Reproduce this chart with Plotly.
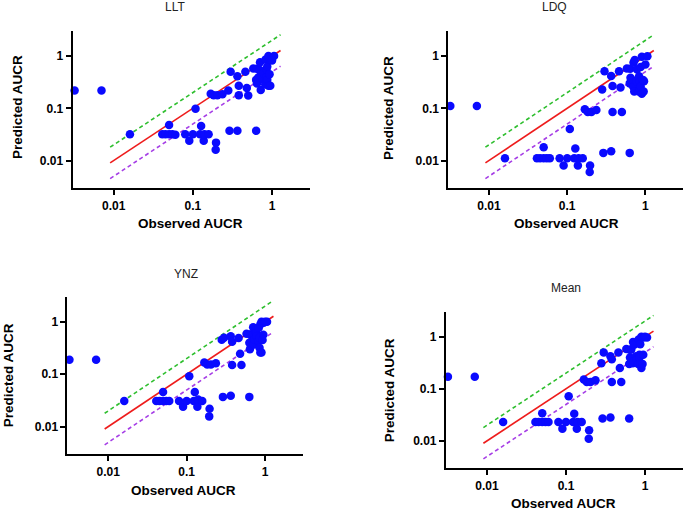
import plotly.graph_objects as go

# Observed AUCR (shared across panels)
observed = [0.0032, 0.007, 0.016, 0.041, 0.045, 0.050, 0.050, 0.055, 0.060, 0.080,
            0.090, 0.100, 0.108, 0.123, 0.127, 0.137, 0.140, 0.158, 0.168, 0.183,
            0.194, 0.196, 0.204, 0.236, 0.28, 0.29, 0.30, 0.365, 0.365, 0.38,
            0.38, 0.46, 0.48, 0.50, 0.58, 0.63, 0.64, 0.63, 0.645, 0.67,
            0.70, 0.705, 0.72, 0.73, 0.77, 0.78, 0.82, 0.83, 0.85, 0.85,
            0.87, 0.87, 0.90, 0.90, 0.95, 0.96, 1.06, 1.00, 0.93]

pred_llt = [0.22, 0.22, 0.032, 0.032, 0.032, 0.048, 0.032, 0.032, 0.031, 0.032,
            0.024, 0.032, 0.098, 0.032, 0.046, 0.024, 0.032, 0.032, 0.19, 0.178,
            0.016, 0.022, 0.178, 0.186, 0.22, 0.037, 0.50, 0.037, 0.41, 0.27,
            0.178, 0.50, 0.245, 0.176, 0.58, 0.037, 0.57, 0.35, 0.30, 0.39,
            0.54, 0.76, 0.225, 0.47, 0.36, 0.47, 0.29, 0.86, 0.40, 0.56,
            0.63, 0.35, 1.0, 0.27, 0.27, 0.84, 1.0, 0.82, 0.45]

pred_ldq = [0.111, 0.111, 0.011, 0.011, 0.011, 0.018, 0.011, 0.011, 0.011, 0.011,
            0.008, 0.011, 0.040, 0.011, 0.017, 0.008, 0.011, 0.011, 0.096, 0.085,
            0.006, 0.008, 0.085, 0.093, 0.23, 0.014, 0.51, 0.015, 0.415, 0.267,
            0.085, 0.51, 0.25, 0.085, 0.58, 0.014, 0.57, 0.30, 0.385, 0.35,
            0.26, 0.75, 0.21, 0.84, 0.33, 0.56, 0.21, 0.41, 0.23, 0.33,
            0.62, 0.26, 0.97, 0.19, 0.21, 0.33, 0.99, 0.69, 0.35]

pred_ynz = [0.189, 0.189, 0.031, 0.031, 0.031, 0.046, 0.031, 0.031, 0.031, 0.031,
            0.024, 0.031, 0.092, 0.031, 0.046, 0.024, 0.033, 0.031, 0.168, 0.154,
            0.0157, 0.022, 0.154, 0.163, 0.454, 0.037, 0.495, 0.039, 0.53, 0.416,
            0.15, 0.49, 0.246, 0.15, 0.59, 0.037, 0.30, 0.40, 0.58, 0.55,
            0.57, 0.79, 0.37, 0.46, 0.62, 0.53, 0.43, 0.77, 0.32, 0.50,
            0.89, 0.26, 1.0, 0.26, 0.57, 0.96, 1.0, 1.0, 0.45]

pred_mean = [0.171, 0.171, 0.023, 0.023, 0.023, 0.034, 0.023, 0.023, 0.023, 0.023,
             0.017, 0.023, 0.072, 0.023, 0.033, 0.017, 0.023, 0.023, 0.15, 0.135,
             0.011, 0.016, 0.135, 0.145, 0.31, 0.027, 0.50, 0.028, 0.42, 0.37,
             0.135, 0.50, 0.25, 0.135, 0.58, 0.027, 0.56, 0.30, 0.40, 0.57,
             0.31, 0.79, 0.34, 0.70, 0.42, 0.36, 0.30, 0.88, 0.45, 0.40,
             0.72, 0.30, 1.0, 0.25, 0.45, 0.97, 0.97, 1.0, 0.30]

panel_titles = ["LLT", "LDQ", "YNZ", "Mean"]
panel_preds = [pred_llt, pred_ldq, pred_ynz, pred_mean]

# reference lines: unity, 2-fold above, 2-fold below
line_x = [0.009, 1.28]
fold_upper = 2.0
fold_lower = 0.5

tick_vals = [0.01, 0.1, 1]
tick_text = ["0.01", "0.1", "1"]

FONT = "Liberation Sans, Arial, sans-serif"

# layout geometry (paper coords)
x_domains = [[0.1060, 0.4526], [0.6545, 0.997], [0.0985, 0.4419], [0.651, 0.997]]
y_domains = [[0.6310, 0.9392], [0.6310, 0.9392], [0.1090, 0.4182], [0.0815, 0.3888]]
title_pos = [(0.2555, 0.986), (0.810, 0.986), (0.271, 0.4627), (0.827, 0.435)]
xtitle_pos = [(0.2788, 0.5627), (0.8277, 0.5608), (0.2686, 0.0392), (0.822, 0.0118)]
ytitle_pos = [(0.0248, 0.790), (0.5664, 0.788), (0.0122, 0.2647), (0.568, 0.235)]

fig = go.Figure()
annotations = []
layout_axes = {}
for i in range(4):
    sfx = "" if i == 0 else str(i + 1)
    xa, ya = "x" + sfx, "y" + sfx
    fig.add_trace(go.Scatter(x=line_x, y=[v * fold_upper for v in line_x], mode="lines",
                             line=dict(color="#2fbf2f", width=1.6, dash="4px,3px"),
                             xaxis=xa, yaxis=ya, showlegend=False, hoverinfo="skip"))
    fig.add_trace(go.Scatter(x=line_x, y=[v * fold_lower for v in line_x], mode="lines",
                             line=dict(color="#a63ee6", width=1.6, dash="4px,3px"),
                             xaxis=xa, yaxis=ya, showlegend=False, hoverinfo="skip"))
    fig.add_trace(go.Scatter(x=line_x, y=line_x, mode="lines",
                             line=dict(color="#ee1c1c", width=1.6),
                             xaxis=xa, yaxis=ya, showlegend=False, hoverinfo="skip"))
    fig.add_trace(go.Scatter(x=observed, y=panel_preds[i], mode="markers",
                             marker=dict(color="#0a0aff", size=8.5, line=dict(width=0)),
                             xaxis=xa, yaxis=ya, showlegend=False, cliponaxis=False))
    common = dict(type="log", showgrid=False, zeroline=False, showline=True, mirror=False,
                  linecolor="black", linewidth=2, ticks="outside", ticklen=5, tickwidth=2,
                  tickcolor="black", tickvals=tick_vals, ticktext=tick_text,
                  tickfont=dict(family=FONT, size=12, color="black", weight="bold"))
    layout_axes["xaxis" + sfx] = dict(common, domain=x_domains[i], range=[-2.52, 0.48],
                                      anchor=ya, ticklabelstandoff=0)
    layout_axes["yaxis" + sfx] = dict(common, domain=y_domains[i], range=[-2.53, 0.48],
                                      anchor=xa, ticklabelstandoff=0)
    annotations.append(dict(text=panel_titles[i], x=title_pos[i][0], y=title_pos[i][1],
                            xref="paper", yref="paper", showarrow=False,
                            xanchor="center", yanchor="middle",
                            font=dict(family=FONT, size=12, color="#222222")))
    annotations.append(dict(text="<b>Observed AUCR</b>", x=xtitle_pos[i][0], y=xtitle_pos[i][1],
                            xref="paper", yref="paper", showarrow=False,
                            xanchor="center", yanchor="middle",
                            font=dict(family=FONT, size=13.5, color="black")))
    annotations.append(dict(text="<b>Predicted AUCR</b>", x=ytitle_pos[i][0], y=ytitle_pos[i][1],
                            xref="paper", yref="paper", showarrow=False, textangle=-90,
                            xanchor="center", yanchor="middle",
                            font=dict(family=FONT, size=13.5, color="black")))

fig.update_layout(width=685, height=510, margin=dict(l=0, r=0, t=0, b=0),
                  paper_bgcolor="white", plot_bgcolor="white",
                  annotations=annotations, **layout_axes)

fig.write_html("out.html", config={"displayModeBar": False},
               post_script="document.body.style.margin='0';document.body.style.padding='0';")
